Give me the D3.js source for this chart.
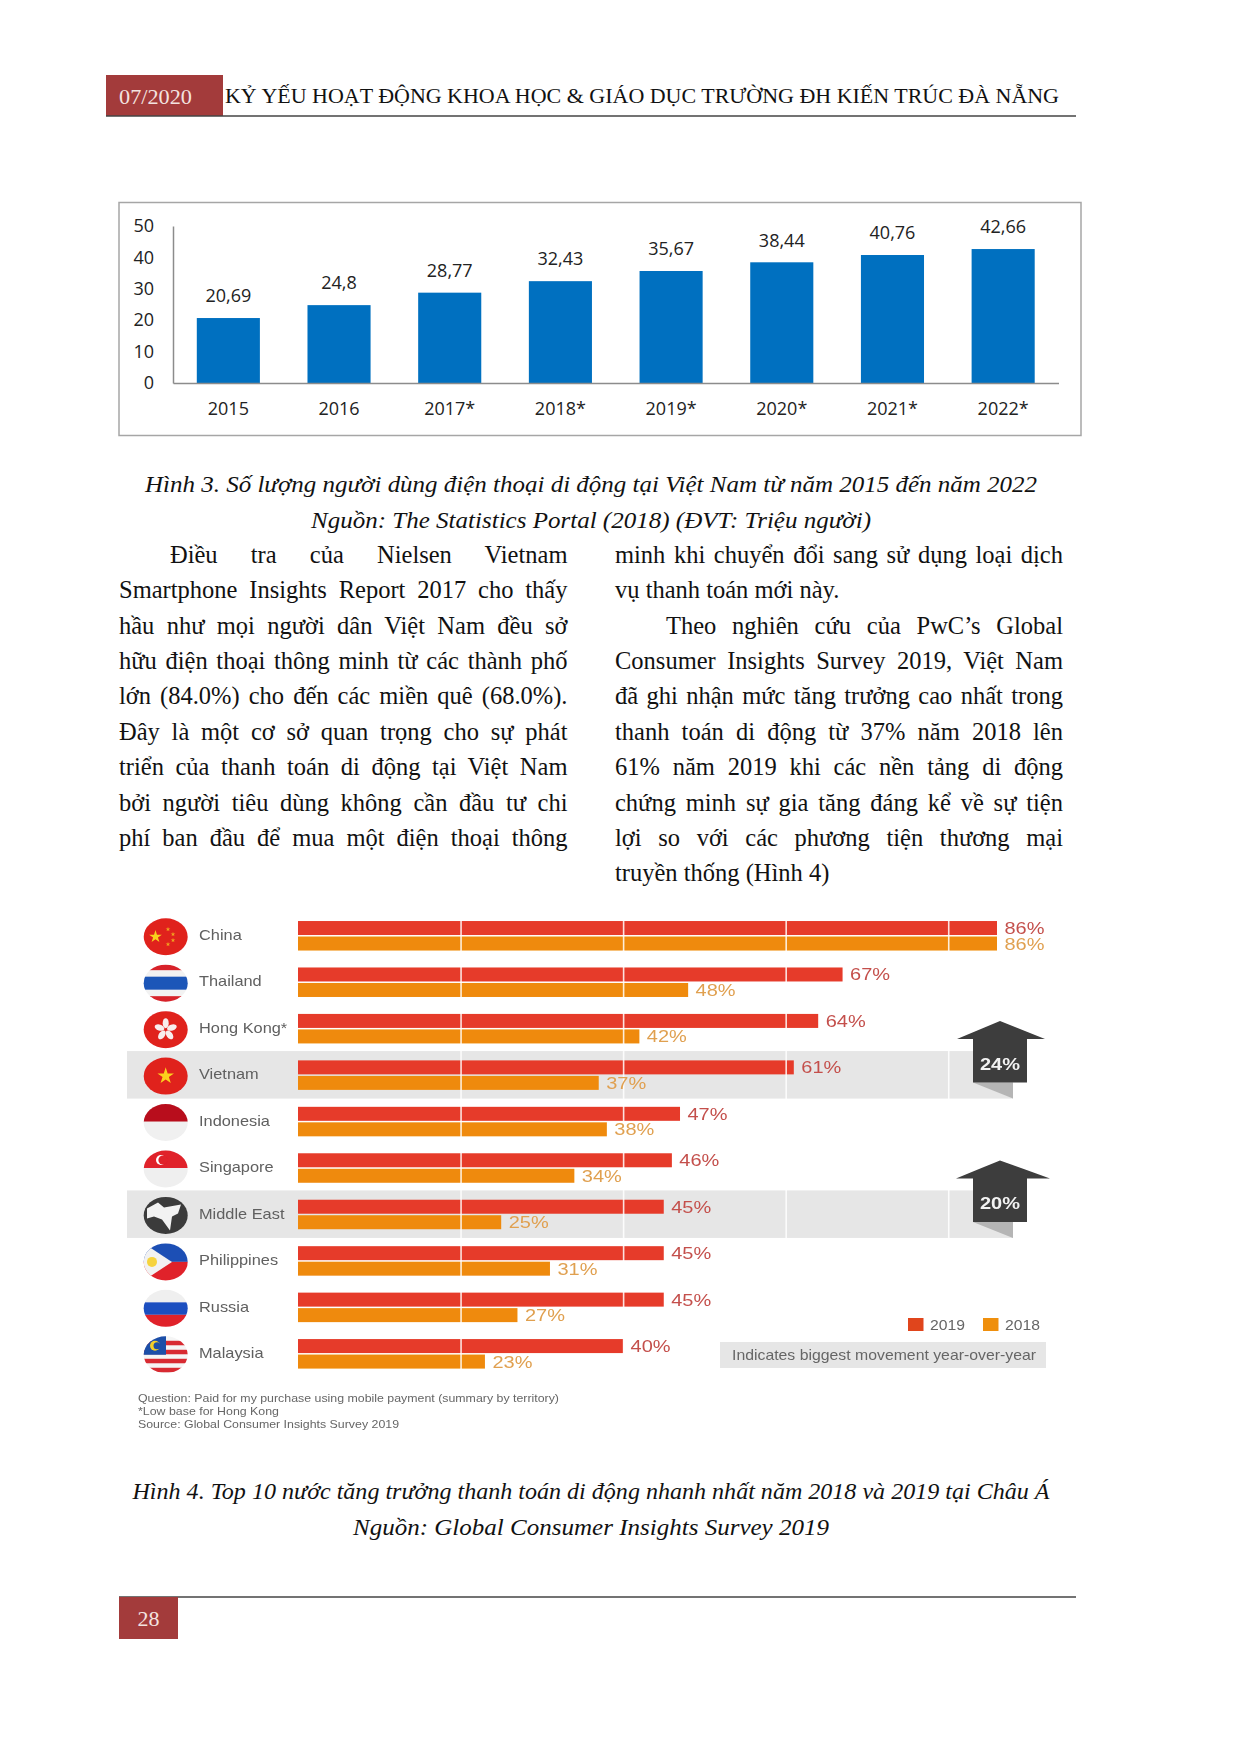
<!DOCTYPE html>
<html><head><meta charset="utf-8">
<script src="https://cdn.jsdelivr.net/npm/d3@7/dist/d3.min.js"></script>
<style>html,body{margin:0;padding:0;background:#fff}svg{display:block}text{white-space:pre}</style>
</head><body><svg id="page" width="1240" height="1754"></svg>
<script>
// ---------- Data ----------
const years = ["2015","2016","2017*","2018*","2019*","2020*","2021*","2022*"];
const users = [20.69,24.8,28.77,32.43,35.67,38.44,40.76,42.66];
const userTicks = [0,10,20,30,40,50];
const countries = ["China","Thailand","Hong Kong*","Vietnam","Indonesia","Singapore","Middle East","Philippines","Russia","Malaysia"];
const pay2019 = [86,67,64,61,47,46,45,45,45,40];
const pay2018 = [86,48,42,37,38,34,25,31,27,23];
const highlighted = ["Vietnam","Middle East"];
const movements = [{country:"Vietnam",label:"24%"},{country:"Middle East",label:"20%"}];
const payGrid = [20,40,60,80];
const legendItems = ["2019","2018"];
const headerTitle = "KỶ YẾU HOẠT ĐỘNG KHOA HỌC & GIÁO DỤC TRƯỜNG ĐH KIẾN TRÚC ĐÀ NẴNG";
const caption3 = ["Hình 3. Số lượng người dùng điện thoại di động tại Việt Nam từ năm 2015 đến năm 2022","Nguồn: The Statistics Portal (2018) (ĐVT: Triệu người)"];
const caption4 = ["Hình 4. Top 10 nước tăng trưởng thanh toán di động nhanh nhất năm 2018 và 2019 tại Châu Á","Nguồn: Global Consumer Insights Survey 2019"];
const leftCol = ["Điều tra của Nielsen Vietnam","Smartphone Insights Report 2017 cho thấy","hầu như mọi người dân Việt Nam đều sở","hữu điện thoại thông minh từ các thành phố","lớn (84.0%) cho đến các miền quê (68.0%).","Đây là một cơ sở quan trọng cho sự phát","triển của thanh toán di động tại Việt Nam","bởi người tiêu dùng không cần đầu tư chi","phí ban đầu để mua một điện thoại thông"];
const rightCol = ["minh khi chuyển đổi sang sử dụng loại dịch","vụ thanh toán mới này.","Theo nghiên cứu của PwC’s Global","Consumer Insights Survey 2019, Việt Nam","đã ghi nhận mức tăng trưởng cao nhất trong","thanh toán di động từ 37% năm 2018 lên","61% năm 2019 khi các nền tảng di động","chứng minh sự gia tăng đáng kể về sự tiện","lợi so với các phương tiện thương mại","truyền thống (Hình 4)"];
const footnotes = ["Question: Paid for my purchase using mobile payment (summary by territory)","*Low base for Hong Kong","Source: Global Consumer Insights Survey 2019"];
const legendNote = "Indicates biggest movement year-over-year";

const svg = d3.select("#page");
const SERIF = "'Liberation Serif','Times New Roman',serif";
const SANS = "'Liberation Sans',Arial,sans-serif";
const OPEN = "'Open Sans','Noto Sans',sans-serif";
function T(p,x,y,s,o={}){
  const t=p.append("text").attr("x",x).attr("y",y).attr("dy",".35em").text(s)
    .attr("font-family",o.f||SANS).attr("font-size",o.s||14).attr("fill",o.c||"#000")
    .attr("text-anchor",o.a||"start");
  if(o.i)t.attr("font-style","italic");
  if(o.b)t.attr("font-weight","bold");
  if(o.w)t.attr("textLength",o.w).attr("lengthAdjust","spacingAndGlyphs");
  if(o.k)t.attr("textLength",t.node().getComputedTextLength()*o.k).attr("lengthAdjust","spacingAndGlyphs");
  return t;
}
const RED="#a33b3b";
// ---------- Header / footer ----------
svg.append("rect").attr("x",106).attr("y",75).attr("width",117).attr("height",41).attr("fill",RED);
svg.append("line").attr("x1",106).attr("x2",1076).attr("y1",116).attr("y2",116).attr("stroke","#444").attr("stroke-width",1.5);
T(svg,119,96,"07/2020",{f:SERIF,s:22,c:"#f3e3e0",w:73});
T(svg,225,95,headerTitle,{f:SERIF,s:22,c:"#111",w:834});
svg.append("line").attr("x1",119).attr("x2",1076).attr("y1",1597).attr("y2",1597).attr("stroke","#444").attr("stroke-width",1.5);
svg.append("rect").attr("x",119).attr("y",1597).attr("width",59).attr("height",42).attr("fill",RED);
T(svg,148.5,1618,"28",{f:SERIF,s:22,c:"#f3e3e0",a:"middle"});

// ---------- Chart 1 ----------
svg.append("rect").attr("x",119).attr("y",202.5).attr("width",962).attr("height",233)
  .attr("fill","#fff").attr("stroke","#a6a6a6").attr("stroke-width",1.5);
const x1=d3.scaleBand().domain(years).range([173,1058.5]).paddingInner(.43).paddingOuter(.215);
const y1=d3.scaleLinear().domain([0,50]).range([383,226]);
const g1=svg.append("g");
g1.selectAll("rect.bar").data(users).join("rect").attr("class","bar")
  .attr("x",(d,i)=>x1(years[i])).attr("width",x1.bandwidth())
  .attr("y",d=>y1(d)).attr("height",d=>y1(0)-y1(d)).attr("fill","#0070c0");
g1.selectAll("text.val").data(users).join("text").attr("class","val")
  .attr("x",(d,i)=>x1(years[i])+x1.bandwidth()/2).attr("y",d=>y1(d)-22).attr("dy",".35em")
  .attr("text-anchor","middle").attr("font-family",OPEN).attr("font-size",18).attr("fill","#222")
  .text(d=>String(d).replace(".",","));
const ax1=g1.append("g").attr("transform","translate(173,0)").call(d3.axisLeft(y1).tickValues(userTicks).tickSize(0).tickPadding(19));
const bx1=g1.append("g").attr("transform","translate(0,383)").call(d3.axisBottom(x1).tickSize(0).tickPadding(19));
[ax1,bx1].forEach(a=>{a.selectAll("path").attr("stroke","#8c8c8c").attr("stroke-width",1.5);
  a.selectAll("text").attr("font-family",OPEN).attr("font-size",18).attr("fill","#222");});

// ---------- Text ----------
caption3.forEach((s,i)=>T(svg,591,483.5+i*35.7,s,{f:SERIF,s:24,i:1,a:"middle",c:"#111",w:i?560:892}));
caption4.forEach((s,i)=>T(svg,591,1491+i*35.5,s,{f:SERIF,s:24,i:1,a:"middle",c:"#111",w:i?476:917}));
function para(lines,x0,x1,yTop,opts){
  lines.forEach((s,i)=>{
    const ind=opts.indent.includes(i)?opts.indentW:0;
    const t=T(svg,x0+ind,yTop+i*35.35,s,{f:SERIF,s:24.5,c:"#111"});
    if(opts.last.includes(i))return;
    const w=x1-x0-ind, n=s.split(" ").length-1;
    const cur=t.node().getComputedTextLength();
    const sp=(w-cur)/n;
    if(sp>=0)t.attr("word-spacing",sp);
    else t.attr("textLength",w).attr("lengthAdjust","spacingAndGlyphs");
  });
}
para(leftCol,119,567.5,554.5,{indent:[0],indentW:51,last:[]});
para(rightCol,615,1063,554.5,{indent:[2],indentW:51,last:[1,9]});

// ---------- Chart 2 ----------
const defs=svg.append("defs");
defs.append("filter").attr("id","soft").attr("filterUnits","userSpaceOnUse").attr("x",110).attr("y",900).attr("width",980).attr("height",560)
  .append("feGaussianBlur").attr("stdDeviation",0.6);
const g2=svg.append("g").attr("filter","url(#soft)");
const xP=d3.scaleLinear().domain([0,86]).range([298,997]);
const rowStep=46.45;
const yRow=d3.scaleBand().domain(countries).range([914.5,914.5+rowStep*10]).paddingInner(0).paddingOuter(0);
const cy=c=>yRow(c)+rowStep/2;
// highlight bands
g2.selectAll("rect.band").data(highlighted).join("rect").attr("class","band")
  .attr("x",127).attr("width",886).attr("y",c=>cy(c)-26).attr("height",47.5).attr("fill","#e6e6e6");
// bars
g2.selectAll("rect.r19").data(pay2019).join("rect").attr("class","r19")
  .attr("x",xP(0)).attr("width",d=>xP(d)-xP(0)).attr("y",(d,i)=>cy(countries[i])-16.7).attr("height",14).attr("fill","#e63b2a");
g2.selectAll("rect.r18").data(pay2018).join("rect").attr("class","r18")
  .attr("x",xP(0)).attr("width",d=>xP(d)-xP(0)).attr("y",(d,i)=>cy(countries[i])-1.2).attr("height",14).attr("fill","#ef8a0c");
// grid via axis
const gridAx=g2.append("g").attr("transform","translate(0,915)").call(d3.axisBottom(xP).tickValues(payGrid).tickSize(rowStep*10-4).tickFormat(""));
gridAx.select(".domain").remove();
gridAx.selectAll("line").attr("stroke","#fff").attr("stroke-width",1.6).attr("stroke-opacity",.85);
// value labels
pay2019.forEach((d,i)=>T(g2,xP(d)+7.5,cy(countries[i])-9.5,d+"%",{s:16.5,c:"#c4504c",w:40}));
pay2018.forEach((d,i)=>T(g2,xP(d)+7.5,cy(countries[i])+6,d+"%",{s:16.5,c:"#e0a050",w:40}));
// labels
countries.forEach(c=>T(g2,199,cy(c)-3,c,{s:15,c:"#606060",k:1.09}));
// flags
const flagDefs=svg.select("defs");
countries.forEach((c,i)=>{
  const id="fc"+i, yc=cy(c)-1, R=22, H=18.5;
  flagDefs.append("clipPath").attr("id",id).append("ellipse").attr("cx",165.7).attr("cy",yc).attr("rx",R).attr("ry",H);
  const f=g2.append("g").attr("clip-path",`url(#${id})`);
  const r=(y,h,col,x=143,w=46)=>f.append("rect").attr("x",x).attr("y",yc+y).attr("width",w).attr("height",h).attr("fill",col);
  const star=(x,y,area,col)=>f.append("path").attr("d",d3.symbol(d3.symbolStar,area)()).attr("transform",`translate(${x},${y})`).attr("fill",col);
  if(c==="China"){r(-19,38,"#e0201f");star(155.5,yc,50,"#f8d21c");[[-8,-8],[-3,-3],[-3,3],[-8,7]].forEach(p=>star(176+p[0],yc+p[1]+0.5,7,"#f0a020"));}
  if(c==="Thailand"){r(-19,38,"#f2f2f2");r(-19,6,"#d8232a");r(13,6,"#d8232a");r(-6.5,13,"#1f56b8");}
  if(c==="Hong Kong*"){r(-19,38,"#e0201f");for(let a=0;a<5;a++){f.append("ellipse").attr("cx",0).attr("cy",-6.5).attr("rx",3).attr("ry",5).attr("fill","#f8eeee").attr("transform",`translate(165.7,${yc}) rotate(${a*72})`);}}
  if(c==="Vietnam"){r(-19,38,"#e0201f");star(165.7,yc,85,"#fbd21c");}
  if(c==="Indonesia"){r(-19,38,"#f0f0f0");r(-19,18,"#b8101c");}
  if(c==="Singapore"){r(-19,38,"#efefef");r(-19,18,"#e0202a");f.append("circle").attr("cx",161).attr("cy",yc-9).attr("r",5).attr("fill","#fff");f.append("circle").attr("cx",163).attr("cy",yc-9).attr("r",4.6).attr("fill","#e0202a");}
  if(c==="Middle East"){r(-19,38,"#3b3b3b");f.append("path").attr("d",`M147,${yc-7}L158,${yc-13}L164,${yc-8}L181,${yc-11}L178,${yc-2}L172,${yc+1}L170,${yc+15}L162,${yc+4}L154,${yc+1}L147,${yc+3}Z`).attr("fill","#f2f2f2");}
  if(c==="Philippines"){r(-19,19,"#1f4fb5");r(0,19,"#e0202a");f.append("path").attr("d",`M143,${yc-19}L143,${yc+19}L172,${yc}Z`).attr("fill","#f2f2f2");f.append("circle").attr("cx",152).attr("cy",yc).attr("r",5).attr("fill","#f6d33c");}
  if(c==="Russia"){r(-19,13,"#efefef");r(-6,12.5,"#1f4fc0");r(6.5,13,"#e0202a");}
  if(c==="Malaysia"){r(-19,38,"#f5f5f5");[-14,-5,4,13].forEach(y=>r(y,4.5,"#d82a30"));r(-19,19,"#1f4fa8",143,23);f.append("circle").attr("cx",155).attr("cy",yc-9).attr("r",5).attr("fill","#f3cf2b");f.append("circle").attr("cx",157).attr("cy",yc-9).attr("r",3.5).attr("fill","#1f4fa8");}
});
// arrows
const arrowW=[{l:957,r:1045},{l:956,r:1050}];
movements.forEach((m,i)=>{
  const band=cy(m.country)-26, bot=band+31.5, wing=band-12, apex=band-30, a=arrowW[i];
  g2.append("path").attr("d",`M973,${bot}L1013,${bot}L1013,${bot+16}Z`).attr("fill","#b5b5b5");
  g2.append("path").attr("d",`M1000,${apex}L${a.r},${wing}L1027,${wing}L1027,${bot}L973,${bot}L973,${wing}L${a.l},${wing}Z`).attr("fill","#3c3c3c");
  T(g2,1000,band+12.5,m.label,{s:17,b:1,c:"#f2f2f2",a:"middle",w:40});
});
// legend
const legendX=[908,983], legendCol=["#e0451f","#ef8f10"], legendTx=[930,1005];
legendItems.forEach((s,i)=>{
  g2.append("rect").attr("x",legendX[i]).attr("y",1318).attr("width",15.5).attr("height",13).attr("fill",legendCol[i]);
  T(g2,legendTx[i],1324.5,s,{s:15,c:"#666",w:35});
});
g2.append("rect").attr("x",720).attr("y",1342).attr("width",326).attr("height",26).attr("fill","#e6e6e6");
T(g2,732,1355,legendNote,{s:14.5,c:"#666",w:304});
// footnotes
const fnW=[421,141,261];
footnotes.forEach((s,i)=>T(g2,138,1398.5+i*12.8,s,{s:11,c:"#666",w:fnW[i]}));
</script></body></html>
